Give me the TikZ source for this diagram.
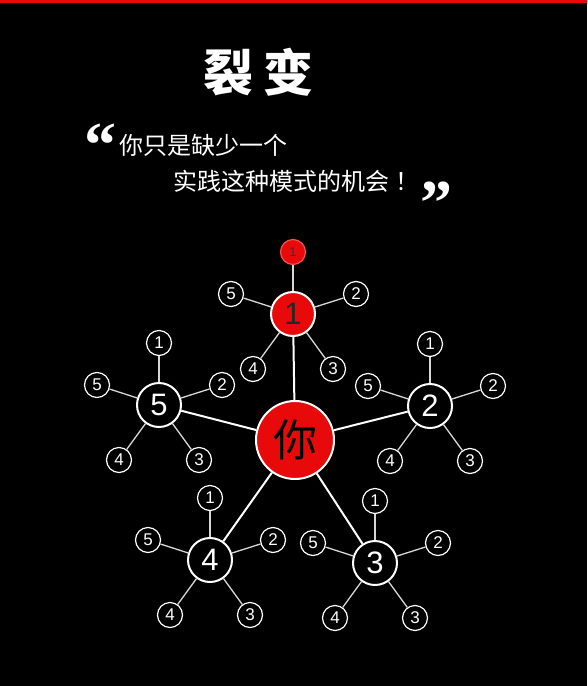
\documentclass[tikz,border=0pt]{standalone}
\usepackage{fontspec}
\setmainfont{Liberation Sans}
\newfontfamily\cjk{Noto Sans CJK SC}
\newfontfamily\quotefont{Liberation Serif}
\definecolor{fire}{RGB}{232,10,10}
\definecolor{twiggray}{RGB}{215,215,215}
\usetikzlibrary{positioning}

\begin{document}
\begin{tikzpicture}[x=1pt,y=-1pt,
  spoke/.style={draw=white,line width=2pt},
  twig/.style={draw=twiggray,line width=1.3pt},
  you/.style={circle,fill=fire,draw=white,line width=2pt,minimum size=78pt,inner sep=0pt,
    text=black,font=\cjk\fontsize{44}{44}\selectfont},
  hub/.style={circle,fill=black,draw=white,line width=2pt,minimum size=44pt,inner sep=0pt,
    text=white,font=\fontsize{31}{31}\selectfont},
  redhub/.style={hub,fill=fire,text=black!85},
  leaf/.style={circle,fill=black,draw=white,line width=1.2pt,minimum size=25pt,inner sep=0pt,
    text=white,font=\fontsize{17}{17}\selectfont},
  redleaf/.style={leaf,fill=fire,draw=fire!70!white,text=black!80,font=\fontsize{13}{13}\selectfont},
  quote/.style={inner sep=0pt,text=white,font=\quotefont\bfseries\fontsize{64}{64}\selectfont}]
  % background and top strip
  \fill[black] (0,0) rectangle (587,686);
  \useasboundingbox (0,0) rectangle (587,686);
  \fill[fire] (0,0) rectangle (587,3);
  % heading
  \node[text=white,font=\cjk\bfseries\fontsize{50}{50}\selectfont] (title) at (258,72) {裂\hspace{10pt}变};
  \node[quote] (qopen) at (100,145) {“};
  \node[text=white,anchor=west,inner sep=0pt,font=\cjk\fontsize{24}{24}\selectfont] (line1) at (119,145) {你只是缺少一个};
  \node[text=white,anchor=west,inner sep=0pt,font=\cjk\fontsize{24}{24}\selectfont] (line2) at (173,181) {实践这种模式的机会\hspace{6pt}！};
  \node[quote] (qclose) at (436,203) {”};
  % hubs
  \node[you] (you) at (295,440) {你};
  \node[redhub] (h1) at (293,314) {1};
  \node[hub] (h2) at (430,406) {2};
  \node[hub] (h3) at (375,563) {3};
  \node[hub] (h4) at (210,560) {4};
  \node[hub] (h5) at (159,405) {5};
  % leaves
  \node[redleaf] (h1a) at ([shift={(0,-62)}]h1) {1};
  \node[leaf] (h1b) at ([shift={(63,-20)}]h1) {2};
  \node[leaf] (h1c) at ([shift={(40,55)}]h1) {3};
  \node[leaf] (h1d) at ([shift={(-40,55)}]h1) {4};
  \node[leaf] (h1e) at ([shift={(-62,-20)}]h1) {5};
  \node[leaf] (h2a) at ([shift={(0,-62)}]h2) {1};
  \node[leaf] (h2b) at ([shift={(63,-20)}]h2) {2};
  \node[leaf] (h2c) at ([shift={(40,55)}]h2) {3};
  \node[leaf] (h2d) at ([shift={(-40,55)}]h2) {4};
  \node[leaf] (h2e) at ([shift={(-62,-20)}]h2) {5};
  \node[leaf] (h3a) at ([shift={(0,-62)}]h3) {1};
  \node[leaf] (h3b) at ([shift={(63,-20)}]h3) {2};
  \node[leaf] (h3c) at ([shift={(40,55)}]h3) {3};
  \node[leaf] (h3d) at ([shift={(-40,55)}]h3) {4};
  \node[leaf] (h3e) at ([shift={(-62,-20)}]h3) {5};
  \node[leaf] (h4a) at ([shift={(0,-62)}]h4) {1};
  \node[leaf] (h4b) at ([shift={(63,-20)}]h4) {2};
  \node[leaf] (h4c) at ([shift={(40,55)}]h4) {3};
  \node[leaf] (h4d) at ([shift={(-40,55)}]h4) {4};
  \node[leaf] (h4e) at ([shift={(-62,-20)}]h4) {5};
  \node[leaf] (h5a) at ([shift={(0,-62)}]h5) {1};
  \node[leaf] (h5b) at ([shift={(63,-20)}]h5) {2};
  \node[leaf] (h5c) at ([shift={(40,55)}]h5) {3};
  \node[leaf] (h5d) at ([shift={(-40,55)}]h5) {4};
  \node[leaf] (h5e) at ([shift={(-62,-20)}]h5) {5};
  % connectors
  \path[spoke]
    (you) edge (h1) edge (h2) edge (h3) edge (h4) edge (h5);
  \path[twig]
    (h1) edge (h1a) edge (h1b) edge (h1c) edge (h1d) edge (h1e)
    (h2) edge (h2a) edge (h2b) edge (h2c) edge (h2d) edge (h2e)
    (h3) edge (h3a) edge (h3b) edge (h3c) edge (h3d) edge (h3e)
    (h4) edge (h4a) edge (h4b) edge (h4c) edge (h4d) edge (h4e)
    (h5) edge (h5a) edge (h5b) edge (h5c) edge (h5d) edge (h5e);
\end{tikzpicture}
\end{document}
